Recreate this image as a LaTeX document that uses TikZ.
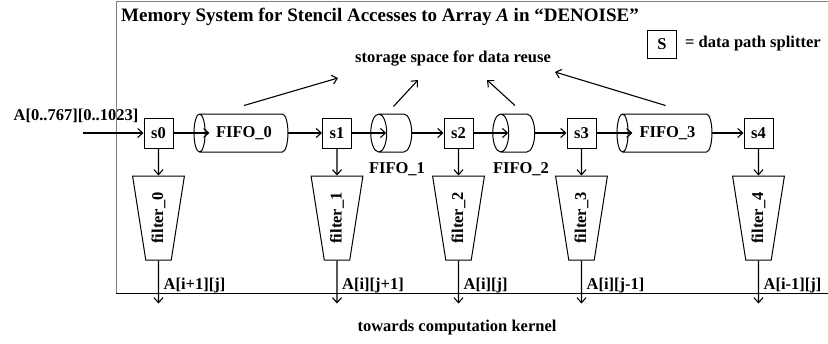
\documentclass[tikz,border=0pt]{standalone}
\usepackage{fontspec}
\setmainfont{Liberation Serif}
\usetikzlibrary{shapes.geometric,arrows.meta,positioning}

\begin{document}
\begin{tikzpicture}[x=1pt, y=-1pt, font=\fontsize{16.5}{19}\selectfont\bfseries]
    \tikzset{
    split/.style={
        rectangle,
        draw,
        line width=1pt,
        minimum width=29pt,
        minimum height=30pt,
        inner sep=0pt
    },
    fifo/.style={
        cylinder,
        draw,
        line width=1pt,
        shape border rotate=180,
        aspect=0.84,
        minimum width=38pt,
        inner sep=0pt
    },
    filter/.style={
        trapezium,
        draw,
        line width=1pt,
        shape border rotate=180,
        trapezium angle=82,
        trapezium stretches=true,
        minimum width=52pt,
        minimum height=84pt,
        inner sep=0pt
    },
    arrow/.style={
        -{Straight Barb[length=5pt,width=9pt]}, line width=1.1pt
    }
}
    \useasboundingbox (0,0) rectangle (828,343);
    % frame
    \draw[gray, line width=1pt] (828,1) -- (116,1) -- (116,293);
    \draw[line width=1pt] (116,293) -- (828,293);
    \node[anchor=base west, inner sep=0pt, font=\fontsize{19}{21}\selectfont\bfseries] (title) at (121,21) {Memory System for Stencil Accesses to Array \textit{A} in “DENOISE”};

    % legend
    \node[split, minimum height=28pt] (key) at (662,44) {S};
    \node[right=8pt of key, inner sep=0pt] (keytxt) {= data path splitter};

    % splitters and filters
    \foreach \i/\x in {0/158.5, 1/337, 2/458.5, 3/581.5, 4/758.5} {
        \node[split] (s\i) at (\x,133) {s\i};
        \node[filter, below=27pt of s\i] (fl\i) {\rotatebox{90}{filter\_\i}};
        \coordinate[below=43pt of fl\i.south] (o\i);
        \draw[arrow] (s\i) -- (fl\i);
        \draw[arrow] (fl\i) -- (o\i);
    }
    \foreach \i/\lab in {0/{A[i+1][j]}, 1/{A[i][j+1]}, 2/{A[i][j]}, 3/{A[i][j-1]}, 4/{A[i-1][j]}}
        \node[anchor=base west, inner sep=0pt] (acc\i) at ([xshift=5pt, yshift=14pt]o\i) {\lab};
    \node (kernel) at (457,328) {towards computation kernel};

    % FIFOs
    \node[fifo, minimum height=94pt] (f0) at (244,133) {FIFO\_0};
    \node[fifo, minimum height=41pt] (f1) at (395.5,133) {\strut};
    \node[fifo, minimum height=42pt] (f2) at (518,133) {\strut};
    \node[fifo, minimum height=95pt] (f3) at (667.5,133) {FIFO\_3};
    \node (f1lbl) at (397,169) {FIFO\_1};
    \node (f2lbl) at (521,169) {FIFO\_2};

    % input
    \coordinate (in) at (83,133);
    \node (inlbl) at (76,116) {A[0..767][0..1023]};

    % data path
    \draw[arrow] (in) -- (s0);
    \draw[arrow] (s0) -- ([xshift=16pt]f0.top);
    \draw[arrow] (f0.bottom) -- (s1);
    \draw[arrow] (s1) -- ([xshift=16pt]f1.top);
    \draw[arrow] (f1.bottom) -- (s2);
    \draw[arrow] (s2) -- ([xshift=16pt]f2.top);
    \draw[arrow] (f2.bottom) -- (s3);
    \draw[arrow] (s3) -- ([xshift=16pt]f3.top);
    \draw[arrow] (f3.bottom) -- (s4);

    % reuse
    \node[anchor=base] (store) at (453,62) {storage space for data reuse};
    \coordinate (r0) at (338,78);
    \coordinate (r1) at (418,80);
    \coordinate (r2) at (487,80);
    \coordinate (r3) at (555,72);
    \draw[arrow] ([yshift=8pt]f0.north) -- (r0);
    \draw[arrow] ([yshift=7pt,xshift=-2pt]f1.north) -- (r1);
    \draw[arrow] ([yshift=8pt,xshift=-3pt]f2.north) -- (r2);
    \draw[arrow] ([yshift=8pt,xshift=-2pt]f3.north) -- (r3);
\end{tikzpicture}
\end{document}
